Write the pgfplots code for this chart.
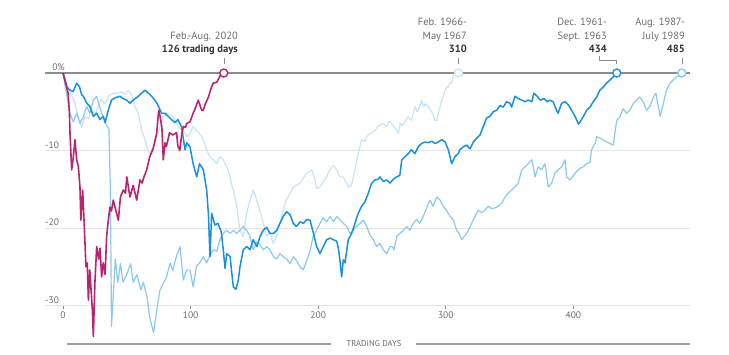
\documentclass[border=0pt]{standalone}
\usepackage{pgfplots}
\pgfplotsset{compat=1.18}
\usepackage{fontspec}
\setmainfont{PT Sans}
\definecolor{cMag}{HTML}{B8246F}
\definecolor{cBlue}{HTML}{1A90D6}
\definecolor{cLight}{HTML}{8CC8EE}
\definecolor{cPale}{HTML}{C8E3F5}
\definecolor{cGrid}{HTML}{E4E4E4}
\definecolor{cZero}{HTML}{8C8C8C}
\definecolor{cLab}{HTML}{6B6B6B}
\definecolor{cNum}{HTML}{333333}
\begin{document}
\begin{tikzpicture}
\useasboundingbox (0bp,0bp) rectangle (729bp,355bp);
\begin{axis}[
  at={(45bp,15bp)}, anchor=south west,
  scale only axis, width=645bp, height=280bp,
  xmin=-14.1, xmax=491.4, ymin=-34.45, ymax=1.68,
  axis line style={draw=none}, tick style={draw=none},
  xtick=\empty, ytick={-30,-20,-10}, yticklabels={,,},
  ymajorgrids, major grid style={color=cGrid, line width=0.8bp},
  clip=false,
]
\draw[cZero, line width=1.3bp] (axis cs:-14.1,0) -- (axis cs:491.4,0);
% 1966-67
\addplot[cPale, line width=1.2bp, line join=round] coordinates {
(0,0) (2,-1) (4,-1.8) (6,-2.6) (9,-3.8) (12,-5.6) (14.6,-7) (17,-5.6) (19.9,-5.9) (22.5,-4.6) (25,-5.6) (27.7,-4.2) (30,-3.4) (33,-4) (36,-2.9) (39.4,-2.6) (43,-2.6) (46,-2.4) (49,-2.8) (51,-2.2) (53.8,-2.8) (56.4,-4.3) (59,-5.2) (61.7,-7.4) (64.3,-8.6) (65.6,-9.5) (68,-10.4) (70.5,-9.5) (73.4,-8.2) (76,-7) (78.6,-5.6) (81,-5.2) (83.5,-5.4) (86,-5.6) (89,-6.5) (92,-7.2) (95,-7.6) (97,-8.2) (99.5,-7.8) (102,-6.9) (104.5,-7.4) (107,-7.8) (110,-8.6) (112.6,-9.9) (115,-10.8) (117.8,-11.2) (120.5,-11.7) (123,-10.8) (125.6,-11.2) (128.3,-12.1) (131,-13.4) (132.2,-14.4) (133.5,-15.1) (136,-17) (138.7,-20.3) (141.3,-21.1) (144,-18) (146.6,-16.4) (149,-15.1) (152,-16.5) (155.7,-18.5) (159.6,-21.1) (162,-20.5) (164.8,-22) (167.5,-21) (170,-19.4) (172.6,-17.7) (175,-16.4) (178,-15.5) (180.5,-14.7) (183,-14.5) (186,-14.2) (191,-12.9) (195,-12.5) (197.5,-13.8) (198.8,-14.9) (201.5,-14.7) (204,-14) (206.7,-13.4) (209,-12.5) (212,-11.9) (214.5,-12.5) (217,-13.4) (219.5,-13.4) (222.4,-14.2) (223.6,-14.7) (226,-14.5) (228.8,-12.5) (231.4,-10.4) (234,-8.6) (236.7,-8.8) (238,-8.2) (240.6,-7.8) (242,-7.7) (244.5,-7.4) (247,-6.9) (250,-6.5) (251,-6.6) (253.8,-6.9) (255,-6.3) (256.5,-6.3) (259,-6.9) (261.7,-7.4) (262.8,-7.8) (264.3,-6.5) (266,-6.8) (268,-6.3) (270.6,-5.6) (273,-6.1) (275.9,-4.3) (277.4,-5) (278.5,-4.8) (281,-3.5) (282.6,-4.4) (283.7,-4) (286,-4.2) (287.8,-4.7) (289,-5) (291.5,-6.1) (292.9,-6.1) (294.2,-5.2) (296.8,-3.5) (298,-3.1) (299.4,-2.2) (301,-1.8) (302,-1.8) (303.5,-1.2) (304.6,-1.3) (306,-0.3) (307,0) (310,0)
};
% 1987-89
\addplot[cLight, line width=1.2bp, line join=round] coordinates {
(0,0) (2,-2) (5.5,-5.2) (8,-6.3) (10.7,-5.2) (13.3,-6.5) (16,-5.6) (18.6,-4.3) (21,-5.2) (23.8,-3.5) (26.4,-3) (28,-4) (31,-5.5) (33.5,-6.5) (36,-7.3) (37,-14) (37.5,-22) (38,-32.7) (41,-24) (43,-27) (45,-24.6) (47,-27) (50,-26) (53,-24.6) (55,-27) (58,-26) (61,-28) (63,-27) (66,-29) (68,-31.6) (71,-33.5) (73.6,-30.5) (76,-28) (79,-27) (81,-26.4) (84,-24.5) (86,-25.5) (89,-23.6) (91.7,-22.4) (94.3,-26.7) (97,-25.4) (99.5,-25.4) (102,-27.6) (104.5,-25) (107,-24.5) (110,-23.7) (112.6,-24.5) (115,-23.6) (117.8,-22.8) (120.5,-23) (123,-21.5) (125.6,-20.7) (128.3,-20.3) (131,-20.7) (133.5,-20.3) (136,-20.7) (138.7,-20.3) (141.3,-19.8) (144,-20.3) (146.6,-21.1) (149,-22.8) (151.8,-21.8) (154.4,-22.2) (157,-22.8) (159.6,-22.4) (162.2,-22.8) (164.8,-23.7) (167.5,-24) (170,-23.3) (172.6,-23.7) (175.3,-24) (178,-24.6) (180.6,-23.7) (183,-24.2) (185.7,-25) (188.3,-25.4) (191,-24.2) (193.6,-23) (196,-21.1) (198.8,-20.3) (201.4,-19.4) (204,-18.7) (206.7,-19.2) (209.3,-18.5) (212,-19.2) (214.5,-18.5) (217,-18.9) (219.7,-19.4) (222.4,-19.8) (225,-20.7) (227.6,-20.3) (230,-19.8) (232.8,-19.4) (235.4,-19) (238,-19.8) (240.6,-20.9) (243.2,-21.5) (245.8,-22.4) (248.4,-22) (251,-22.8) (253.7,-23.3) (256.3,-22.4) (258,-22.4) (259.5,-22.8) (261.5,-21.1) (264,-20.7) (266.7,-20.3) (269.5,-19.8) (272,-20.3) (274.5,-19.4) (277,-18.9) (279.5,-19.4) (282.4,-18.5) (285,-17.4) (287.6,-16.4) (290,-17.2) (292.9,-16) (295.5,-16.4) (298,-17.2) (300.5,-17.7) (303.3,-18.5) (306,-19) (308.5,-20.3) (310.5,-20.7) (312.4,-21.5) (315,-21) (317.7,-20.3) (320.3,-19.4) (322.9,-18.5) (325.5,-17.7) (328,-18) (330.7,-17.7) (333.3,-17.2) (336,-17.5) (338.5,-17.4) (341,-17.2) (343.8,-16.8) (346.4,-16) (349,-15.5) (351.6,-15.1) (354.2,-14.7) (356.8,-14.2) (359.5,-12.5) (362,-12.1) (364.7,-11.7) (367.3,-11.2) (368.5,-12) (370,-13.4) (372.5,-12.1) (375,-12.5) (377.7,-11.7) (380.3,-14.7) (383,-14.2) (385.6,-12.9) (388,-12.5) (390.8,-12.1) (393.4,-11.2) (394.7,-13.4) (397.3,-13.8) (400,-13.2) (402.6,-12.7) (405.2,-12.3) (407.8,-12.1) (410.4,-11.7) (413,-11.5) (414.3,-9.9) (417,-9.1) (418.2,-8.2) (420.8,-8.4) (423.4,-8.6) (426,-8.9) (428.7,-9.1) (431.3,-9.3) (432.5,-7.8) (434,-6.1) (436.6,-5.6) (439,-4.6) (441.7,-5.2) (444.3,-4.8) (447,-3.9) (449.5,-3.5) (452,-3.1) (454.7,-3.7) (457.4,-4.8) (460,-4.3) (462.6,-3.1) (464.7,-2.6) (466.5,-4.3) (468,-5.6) (470.5,-3.9) (473,-2.2) (475.8,-1.3) (478.3,-0.9) (481,-0.5) (483,-0.3) (485,0)
};
% 1961-63
\addplot[cBlue, line width=1.5bp, line join=round] coordinates {
(0,0) (3,-1.8) (5.5,-2.2) (8,-2.4) (10.7,-1.3) (13,-1.8) (14.6,-2.8) (16,-3) (18.6,-3.9) (21,-4.3) (23.8,-5.6) (26.4,-5.2) (29,-6) (31.6,-5.6) (33,-6.4) (35.5,-4.8) (38,-3.5) (40.8,-3.2) (44.7,-3) (47,-3.3) (50,-3.5) (52.5,-3.9) (55,-3.5) (59,-3) (61.7,-2.6) (64.3,-2.2) (67,-2.6) (69.5,-3) (72,-3.5) (74,-4) (77.3,-5.2) (80,-5.2) (82.5,-5.6) (85,-6) (87.7,-6.4) (90,-6) (92.9,-6.9) (95.6,-9.9) (97,-9) (99.5,-9.5) (102,-11.7) (104.8,-13.4) (107,-11.7) (110,-12.5) (112.6,-15.1) (114,-18.3) (115.2,-23.7) (116.5,-18.1) (119,-19.6) (121.5,-19.4) (124,-20.5) (125.6,-22.8) (127,-25.2) (128.3,-23.3) (131,-23.7) (132,-25.4) (133.5,-27.6) (135.6,-27.9) (137.4,-26.7) (138.7,-25) (141.3,-22.8) (144,-22.4) (146.6,-22.8) (149,-21.5) (152,-22.4) (154.4,-21.1) (157,-20.3) (159.6,-19.9) (162.2,-20.7) (165,-20.7) (167.5,-20.3) (170,-19.4) (172.6,-18.5) (175.3,-17.9) (178,-18.3) (180.5,-19.4) (183,-19.8) (185.8,-19.2) (188.4,-19.4) (191,-18.9) (193.6,-19) (196,-20.5) (198.8,-22.4) (201.4,-23.3) (204,-22.4) (206.7,-21.5) (209.3,-21.3) (211.9,-21.5) (214.5,-21.7) (215.8,-22.6) (217,-24.1) (218.4,-26.3) (219.7,-24.1) (221,-24.5) (223.6,-21.5) (226.2,-20.7) (228.8,-19.4) (231.4,-18.1) (234,-17.2) (236.7,-16.6) (239.3,-15.5) (242,-14.2) (244.5,-13.8) (247,-13.7) (248.4,-13.4) (251,-14) (253.7,-13.8) (256.3,-14.2) (258.9,-13.7) (261.5,-13.4) (264,-13.2) (265.5,-11.2) (268,-10.8) (270.6,-10.4) (273,-9.9) (275.8,-10.4) (278.5,-9.5) (281,-9.1) (283.7,-8.9) (286,-9) (289,-8.8) (291.6,-9.1) (294.2,-8.9) (296.8,-8.6) (299.5,-8.9) (302,-9.9) (304.6,-11.7) (307.2,-10.8) (309.8,-10.4) (311,-9.9) (313.9,-9.5) (316.5,-9.3) (319,-9.8) (321.6,-8.9) (324.2,-8.4) (326.8,-8) (329.4,-6.9) (332,-5.8) (334.6,-5.6) (337.2,-5) (339.9,-4.8) (342.5,-4.2) (345,-4.4) (347.7,-3.7) (350.3,-3.9) (351.6,-4.4) (354.2,-3) (356.9,-3.3) (359.5,-3.5) (362,-3.7) (364.7,-3.5) (367.4,-3.7) (369,-2.6) (371.6,-3) (374.2,-3.5) (376.8,-3.3) (379.5,-3.7) (381.5,-3.5) (384.1,-3.7) (386.8,-4.8) (388,-5.2) (390.8,-3.9) (393.4,-3.7) (396,-4.1) (398.6,-4.8) (401.3,-5.6) (404,-6.6) (407.9,-5.6) (410.4,-4.8) (413,-4.4) (415.6,-3.7) (418.2,-3.1) (420.8,-2.2) (423.5,-1.8) (426,-1.3) (428.7,-0.9) (431.3,-0.5) (434,0)
};
% 2020
\addplot[cMag, line width=1.6bp, line join=round] coordinates {
(0,0) (2,-1.2) (4,-2.6) (5,-5) (5.5,-7.8) (6.8,-12.5) (8,-11) (9.4,-8.6) (10.7,-11.2) (12,-12) (13.3,-14.7) (14,-19) (15.4,-15.1) (16.7,-19.8) (18,-25) (19,-24.5) (19.9,-29.3) (21,-25.4) (22,-28) (23,-30.5) (23.8,-34) (25,-27.1) (26.4,-22.4) (28,-24) (29,-22.6) (30.3,-26.3) (31.5,-24.5) (33,-26) (34.2,-21.1) (35.5,-19) (36.8,-17.3) (38,-17.8) (39.4,-16.4) (42,-18.1) (43.4,-19) (45,-16) (47.3,-15.1) (49,-15.5) (50,-13.4) (52.5,-16) (55,-14.5) (57.8,-16.4) (60.3,-13.8) (62,-14.2) (63.5,-13.4) (65.6,-12.5) (68,-10.8) (70.6,-9.8) (73.4,-7.8) (75,-4.8) (76,-5.5) (77.5,-7) (78.6,-11.2) (80,-9) (81,-9.5) (83.5,-7.7) (86,-8) (89,-7.7) (90,-9.4) (91.5,-10) (93,-8) (94.3,-6.9) (96,-7) (97,-6.5) (99.5,-6.3) (102,-5.2) (104,-4.4) (106,-3.5) (108.7,-4.8) (110,-4.8) (111.5,-4) (114,-3.1) (116,-2) (117.8,-1.3) (120.5,-1.2) (123,-0.4) (126,0)
};
\addplot[only marks, mark=*, mark size=4bp, mark options={draw=cMag, fill=white, line width=1.4bp}] coordinates {(126,0)};
\addplot[only marks, mark=*, mark size=4bp, mark options={draw=cPale, fill=white, line width=1.4bp}] coordinates {(310,0)};
\addplot[only marks, mark=*, mark size=4bp, mark options={draw=cBlue, fill=white, line width=1.4bp}] coordinates {(434,0)};
\addplot[only marks, mark=*, mark size=4bp, mark options={draw=cLight, fill=white, line width=1.4bp}] coordinates {(485,0)};
\pgfplotsinvokeforeach{0,100,200,300,400}{
  \draw[cZero, line width=0.6bp] (axis cs:#1,-30) -- (axis cs:#1,-30.45);
  \node[anchor=north, inner sep=0pt, text=cLab, font=\fontsize{9.5bp}{11bp}\selectfont] at (axis cs:#1,-30.75) {#1};
}
\end{axis}
% y labels
\begin{scope}[every node/.style={inner sep=0pt, text=cLab, font=\fontsize{9.5bp}{11bp}\selectfont}]
\node[anchor=base east] at (65bp,284bp) {0\%};
\node[anchor=base west] at (45bp,206.7bp) {-10};
\node[anchor=base west] at (45bp,129.2bp) {-20};
\node[anchor=base west] at (45bp,51.7bp) {-30};
\end{scope}
% annotations
\begin{scope}[every node/.style={inner sep=0pt, anchor=base east, font=\fontsize{10.5bp}{13bp}\selectfont}]
\node[text=cLab] at (238bp,315.5bp) {Feb.-Aug. 2020};
\node[text=cNum, font=\fontsize{10.5bp}{13bp}\selectfont\bfseries] at (238bp,302bp) {126 trading days};
\node[text=cLab] at (467bp,329bp) {Feb. 1966-};
\node[text=cLab] at (467bp,315.5bp) {May 1967};
\node[text=cNum, font=\fontsize{10.5bp}{13bp}\selectfont\bfseries] at (467bp,302bp) {310};
\node[text=cLab] at (607bp,329bp) {Dec. 1961-};
\node[text=cLab] at (607bp,315.5bp) {Sept. 1963};
\node[text=cNum, font=\fontsize{10.5bp}{13bp}\selectfont\bfseries] at (607bp,302bp) {434};
\node[text=cLab] at (685bp,329bp) {Aug. 1987-};
\node[text=cLab] at (685bp,315.5bp) {July 1989};
\node[text=cNum, font=\fontsize{10.5bp}{13bp}\selectfont\bfseries] at (685bp,302bp) {485};
\end{scope}
\draw[cZero, line width=0.6bp] (224bp,297bp) -- (224bp,290.5bp);
\draw[cZero, line width=0.6bp] (458.6bp,297bp) -- (458.6bp,290.5bp);
\draw[cZero, line width=0.6bp] (599bp,298.5bp) -- (599bp,295bp) -- (616.7bp,295bp) -- (616.7bp,291bp);
\draw[cZero, line width=0.6bp] (681.9bp,297bp) -- (681.9bp,290.5bp);
% bottom rule
\draw[color=black!38, line width=1.8bp] (67bp,11bp) -- (331bp,11bp);
\draw[color=black!38, line width=1.8bp] (416bp,11bp) -- (690bp,11bp);
\node[inner sep=0pt, text=cLab, font=\fontsize{8.5bp}{10bp}\selectfont] at (374bp,11.3bp) {TRADING DAYS};
\end{tikzpicture}
\end{document}
